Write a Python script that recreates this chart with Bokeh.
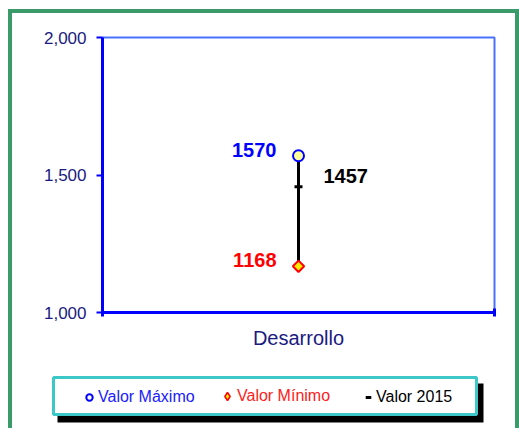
import math
from bokeh.plotting import figure
from bokeh.layouts import column, row
from bokeh.core.properties import value
from bokeh.models import (ColumnDataSource, Range1d, FixedTicker,
                          NumeralTickFormatter, LabelSet, Legend, LegendItem, BoxAnnotation)
from bokeh.embed import file_html
from bokeh.resources import INLINE

categories = ["Desarrollo"]
valor_maximo = [1570]
valor_minimo = [1168]
valor_2015 = [1457]
y_ticks = [1000, 1500, 2000]
legend_labels = ["Valor Máximo", "Valor Mínimo", "Valor 2015"]

FONT = "Liberation Sans"
NAVY = "#1a1a80"

n = len(categories)
xpos = [i + 0.5 for i in range(n)]

p = figure(width=503, height=342, output_backend="svg", toolbar_location=None,
           x_range=Range1d(0, n), y_range=Range1d(1000, 2000),
           min_border_left=90, min_border_right=21, min_border_top=24, min_border_bottom=43)
p.grid.visible = False
p.outline_line_color = "#4a70ff"
p.outline_line_width = 2
p.background_fill_color = "white"
p.border_fill_color = "white"

yax = p.yaxis[0]
yax.ticker = FixedTicker(ticks=y_ticks)
yax.formatter = NumeralTickFormatter(format="0,0")
yax.axis_line_color = "#0000ff"
yax.axis_line_width = 3
yax.major_tick_line_color = "#0000ff"
yax.major_tick_line_width = 2
yax.major_tick_in = 0
yax.major_tick_out = 6
yax.minor_tick_line_color = None
yax.major_label_text_font = FONT
yax.major_label_text_font_size = "17px"
yax.major_label_text_color = NAVY
yax.major_label_standoff = 10

xax = p.xaxis[0]
xax.ticker = FixedTicker(ticks=list(range(n + 1)))
xax.major_label_overrides = {i: "" for i in range(n + 1)}
xax.axis_line_color = "#0000ff"
xax.axis_line_width = 3
xax.major_tick_line_color = "#0000ff"
xax.major_tick_line_width = 3
xax.major_tick_in = 4
xax.major_tick_out = 4
xax.minor_tick_line_color = None
xax.major_label_text_font_size = "1px"
xax.axis_label = categories[0]
xax.axis_label_text_font = FONT
xax.axis_label_text_font_size = "20px"
xax.axis_label_text_font_style = "normal"
xax.axis_label_text_color = NAVY
xax.axis_label_standoff = 10

src = ColumnDataSource(dict(x=xpos, vmax=valor_maximo, vmin=valor_minimo, v15=valor_2015,
                            tmax=[str(v) for v in valor_maximo],
                            tmin=[str(v) for v in valor_minimo],
                            t15=[str(v) for v in valor_2015]))

p.segment(x0="x", y0="vmin", x1="x", y1="vmax", source=src, line_color="black", line_width=3)
p.scatter(x="x", y="v15", source=src, marker="dash", size=8, line_color="black", line_width=3)
p.scatter(x="x", y="vmax", source=src, marker="circle", size=11,
          fill_color="#ffff99", line_color="#0000ff", line_width=2)
p.scatter(x="x", y="vmin", source=src, marker="square", size=8, angle=math.pi / 4,
          fill_color="#ffee00", line_color="#ff0000", line_width=2)

lbl = dict(source=src, text_baseline="middle", text_font=value(FONT),
           text_font_size="20px", text_font_style="bold")
p.add_layout(LabelSet(x="x", y="vmax", text="tmax", x_offset=-22, y_offset=6,
                      text_align="right", text_color="#0000ff", **lbl))
p.add_layout(LabelSet(x="x", y="vmin", text="tmin", x_offset=-22, y_offset=6,
                      text_align="right", text_color="#ff0000", **lbl))
p.add_layout(LabelSet(x="x", y="v15", text="t15", x_offset=25, y_offset=11,
                      text_align="left", text_color="black", **lbl))

# ---- legend panel (own figure, frame fills it, pixel-like ranges, y downward)
LW, LH = 503, 77
p2 = figure(width=LW, height=LH, output_backend="svg", toolbar_location=None,
            x_range=Range1d(0, LW), y_range=Range1d(LH, 0),
            min_border=0, min_border_left=0, min_border_right=0,
            min_border_top=0, min_border_bottom=0, x_axis_location=None, y_axis_location=None)
p2.grid.visible = False
p2.outline_line_color = None
p2.background_fill_color = "white"
p2.border_fill_color = "white"

p2.add_layout(BoxAnnotation(left=45, right=471, top=28, bottom=67,
                            fill_color="black", fill_alpha=1, line_color=None))
p2.add_layout(BoxAnnotation(left=41, right=464, top=22, bottom=59,
                            fill_color="white", fill_alpha=1,
                            line_color="#3cc8c8", line_alpha=1, line_width=3))

# legend proxy renderers (data lies outside this panel's ranges, only legend glyphs show)
lmax = p2.scatter(x="x", y="vmax", source=src, marker="circle", size=8,
                  fill_color="white", line_color="#0000ff", line_width=2)
lmin = p2.scatter(x="x", y="vmin", source=src, marker="diamond", size=8,
                  fill_color="#ffee00", line_color="#ff0000", line_width=1.5)
l15 = p2.scatter(x="x", y="v15", source=src, marker="dash", size=7,
                 line_color="black", line_width=3)

def make_legend(label, rend, color, x, gw, standoff):
    lg = Legend(items=[LegendItem(label=label, renderers=[rend])], location=(x, 26),
                orientation="horizontal", padding=0, margin=0, spacing=0,
                glyph_width=gw, glyph_height=gw, label_height=16, label_standoff=standoff,
                label_text_font=FONT, label_text_font_size="16px", label_text_color=color,
                label_text_baseline="middle",
                border_line_color=None, background_fill_alpha=0)
    p2.add_layout(lg, "center")

make_legend(legend_labels[0], lmax, "#2020ff", 69, 16, 1)
make_legend(legend_labels[1], lmin, "#ff2020", 205, 20, 0)
make_legend(legend_labels[2], l15, "black", 349, 14, 1)

layout = column(row(p), row(p2), spacing=0,
                styles={"margin-left": "8px", "margin-top": "9px",
                        "border": "4px solid #3a9a6a"})

open("out.html", "w").write(file_html(layout, INLINE))
